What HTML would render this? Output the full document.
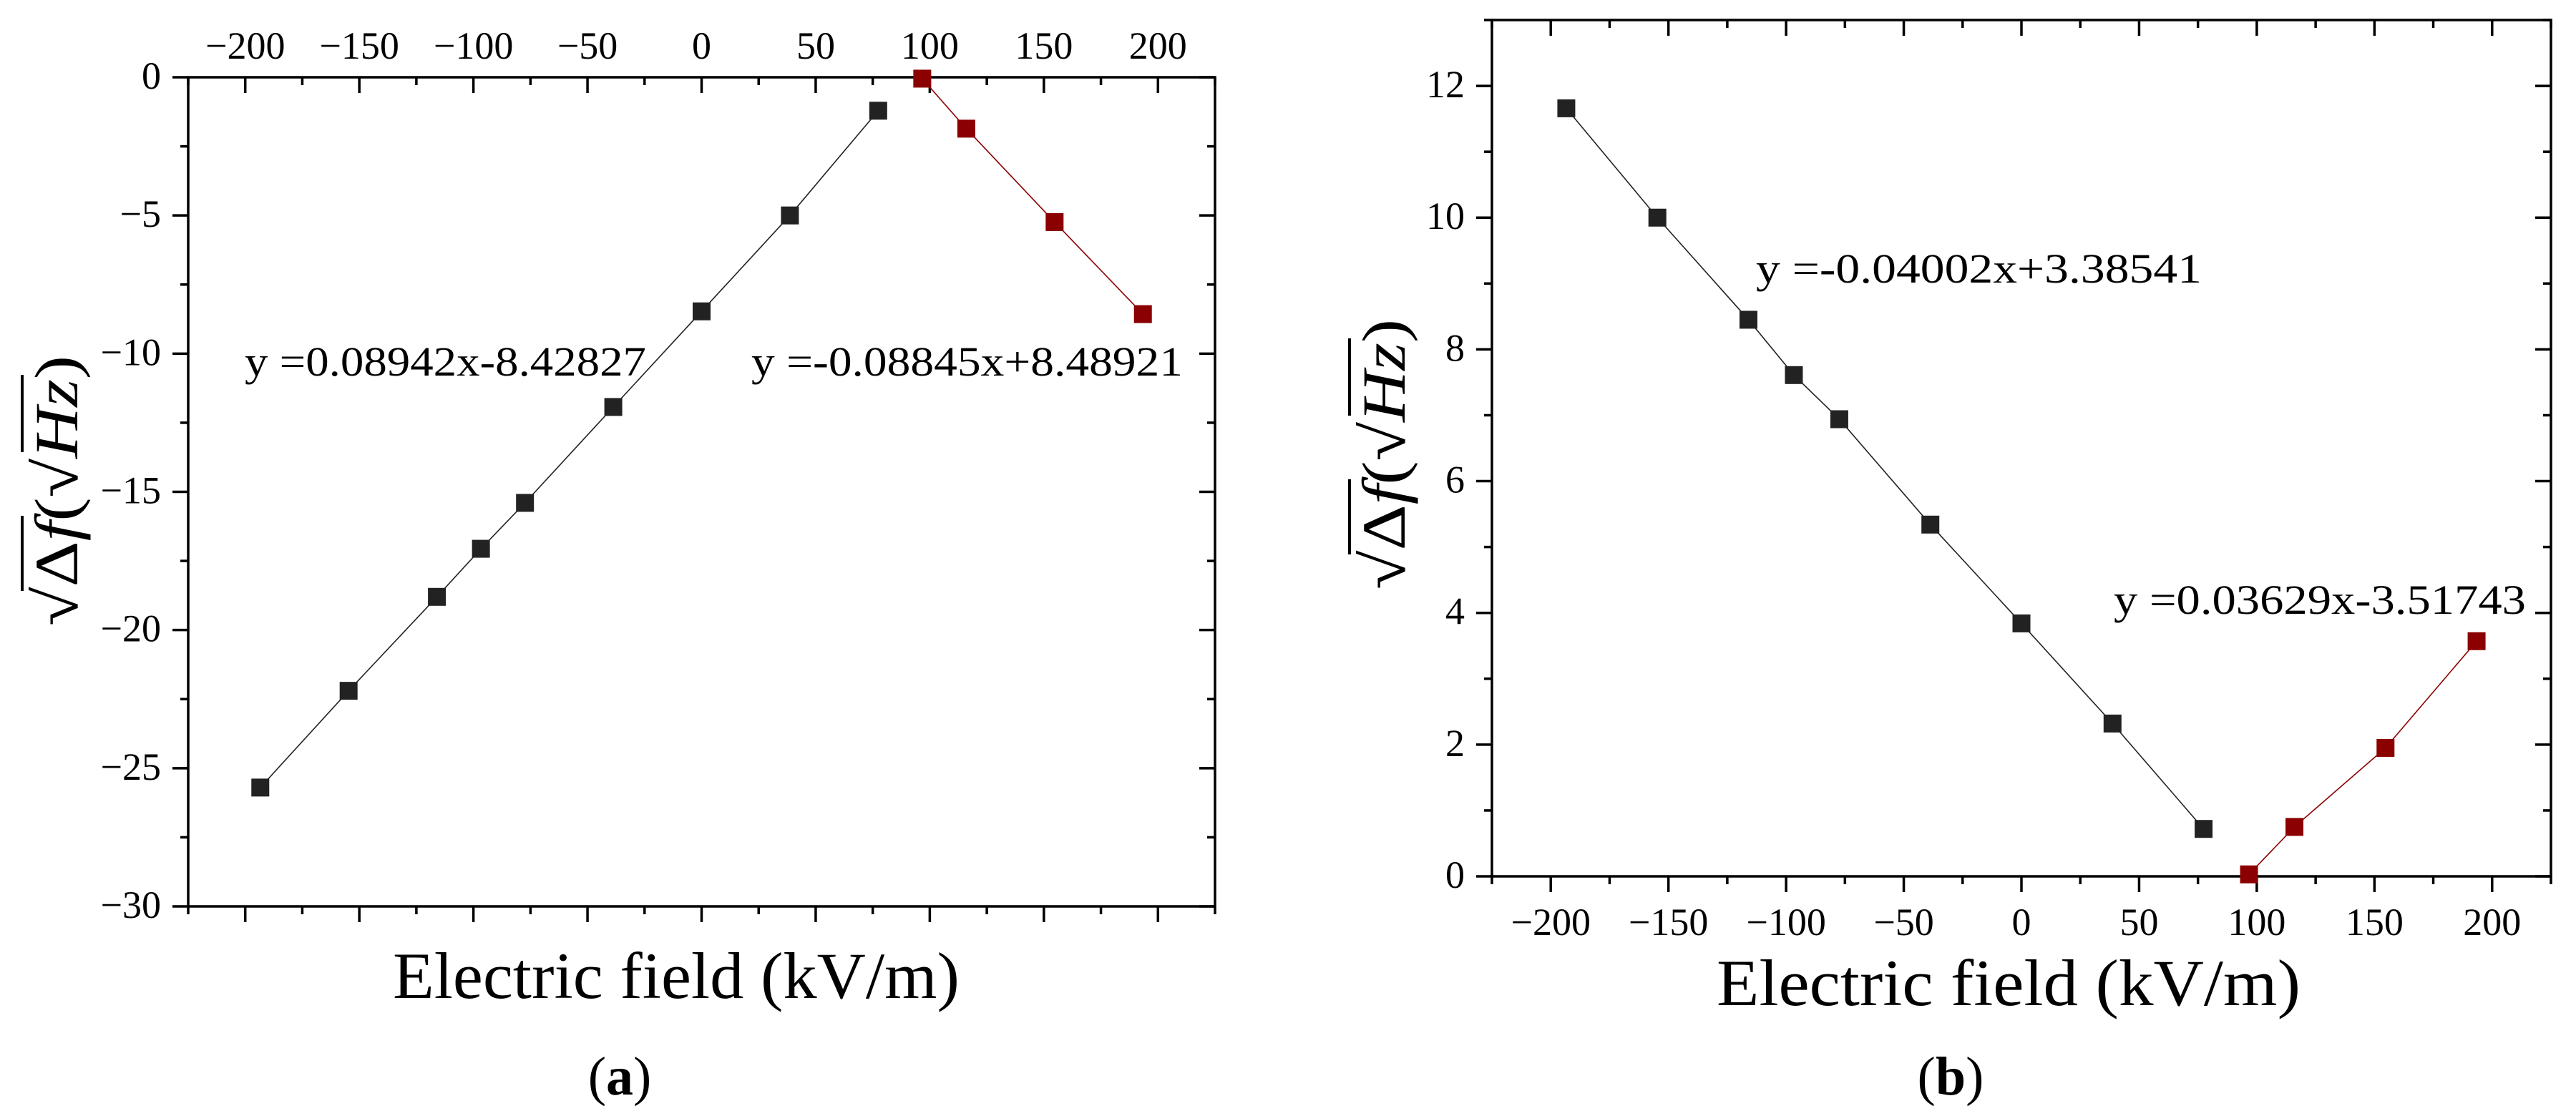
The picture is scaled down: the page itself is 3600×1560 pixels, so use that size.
<!DOCTYPE html>
<html><head><meta charset="utf-8">
<style>
html,body{margin:0;padding:0;background:#fff;}
svg{display:block;}
text{font-family:"Liberation Serif",serif;fill:#000;}
</style></head>
<body>
<svg id="fig" width="3600" height="1560" viewBox="0 0 3600 1560" xmlns="http://www.w3.org/2000/svg">
  <g id="chartA"></g>
  <g id="chartB"></g>
</svg>
<script>
// ---- Shared data ----
const xTickValues = [-200, -150, -100, -50, 0, 50, 100, 150, 200];
const fieldBlack = [-193.4, -154.7, -116, -96.7, -77.4, -38.7, 0, 38.7, 77.4];
const fieldRed = [96.7, 116, 154.7, 193.4];
// ---- Chart (a) ----
const aBlackY = [-25.7, -22.2, -18.8, -17.06, -15.4, -11.93, -8.47, -5.0, -1.21];
const aRedY = [-0.05, -1.86, -5.24, -8.57];
const aYTicks = [0, -5, -10, -15, -20, -25, -30];
const aFitLeft = "y =0.08942x-8.42827";
const aFitRight = "y =-0.08845x+8.48921";
// ---- Chart (b) ----
const bBlackY = [11.66, 10.0, 8.45, 7.61, 6.94, 5.34, 3.84, 2.32, 0.72];
const bRedY = [0.03, 0.75, 1.95, 3.57];
const bYTicks = [0, 2, 4, 6, 8, 10, 12];
const bFitLeft = "y =-0.04002x+3.38541";
const bFitRight = "y =0.03629x-3.51743";

const NS = "http://www.w3.org/2000/svg";
function mk(parent, tag, attrs, txt) {
  const e = document.createElementNS(NS, tag);
  for (const k in attrs) e.setAttribute(k, attrs[k]);
  if (txt !== undefined) e.textContent = txt;
  parent.appendChild(e);
  return e;
}

function drawChart(g, cfg) {
  const L = cfg.left, R = cfg.right, T = cfg.top, B = cfg.bottom;
  const xs = v => L + (v - cfg.xmin) / (cfg.xmax - cfg.xmin) * (R - L);
  const ys = v => B - (v - cfg.ymin) / (cfg.ymax - cfg.ymin) * (B - T);
  const ax = mk(g, 'g', {});
  
  
  const fr = mk(ax, 'rect', {x: L, y: T, width: R - L, height: B - T, fill: 'none', stroke: '#000', 'stroke-width': 3.5});
  
  
  for (let v = -225; v <= 225.01; v += 25) {
    const major = Math.abs(v % 50) < 0.01;
    const len = major ? 22 : 11;
    const x = xs(v);
    mk(ax, 'line', {x1: x, y1: B, x2: x, y2: B + len, stroke: '#000', 'stroke-width': 3.5});
    mk(ax, 'line', {x1: x, y1: T, x2: x, y2: T + len, stroke: '#000', 'stroke-width': 3.5});
  }
  for (let v = cfg.ymin; v <= cfg.ymax + 0.001; v += cfg.yminor) {
    const major = cfg.yTicks.some(t => Math.abs(t - v) < 0.01);
    const len = major ? 22 : 11;
    const y = ys(v);
    mk(ax, 'line', {x1: L - len, y1: y, x2: L, y2: y, stroke: '#000', 'stroke-width': 3.5});
    mk(ax, 'line', {x1: R, y1: y, x2: R - len, y2: y, stroke: '#000', 'stroke-width': 3.5});
  }
  xTickValues.forEach(v => {
    const t = mk(ax, 'text', {x: xs(v), y: cfg.xLabelY, 'text-anchor': 'middle', 'font-size': 54}, (v < 0 ? '\u2212' + Math.abs(v) : String(v)));
    
    
  });
  cfg.yTicks.forEach(v => {
    const t = mk(ax, 'text', {x: L - 38, y: ys(v) + 16, 'text-anchor': 'end', 'font-size': 54}, (v < 0 ? '\u2212' + Math.abs(v) : String(v)));
    
    
  });
  const blackPts = fieldBlack.map((x, i) => xs(x) + ',' + ys(cfg.blackY[i])).join(' ');
  const redPts = fieldRed.map((x, i) => xs(x) + ',' + ys(cfg.redY[i])).join(' ');
  const bl = mk(g, 'polyline', {points: blackPts, fill: 'none', stroke: '#222', 'stroke-width': 1.6});
  
  
  const rl = mk(g, 'polyline', {points: redPts, fill: 'none', stroke: '#8b0000', 'stroke-width': 1.6});
  
  
  const S = 25;
  fieldBlack.forEach((x, i) => {
    const r = mk(g, 'rect', {x: xs(x) - S / 2, y: ys(cfg.blackY[i]) - S / 2, width: S, height: S, fill: '#222'});
    
    
  });
  fieldRed.forEach((x, i) => {
    const r = mk(g, 'rect', {x: xs(x) - S / 2, y: ys(cfg.redY[i]) - S / 2, width: S, height: S, fill: '#8b0000'});
    
    
  });
  cfg.annots.forEach(a => {
    const t = mk(g, 'text', {x: a.x, y: a.y, 'font-size': 58, textLength: a.w, lengthAdjust: 'spacingAndGlyphs'}, a.text);
    
    
  });
  const xt = mk(g, 'text', {x: cfg.xTitle.x, y: cfg.xTitle.y, 'font-size': 92, textLength: cfg.xTitle.w, lengthAdjust: 'spacingAndGlyphs'}, 'Electric field (kV/m)');
  
  
  const yg = mk(g, 'g', {transform: 'translate(' + cfg.yTitle.x + ',' + cfg.yTitle.y + ') rotate(-90)'});
  
  
  const yt = mk(yg, 'text', {x: -189, y: 31, 'font-size': 86, textLength: 378, lengthAdjust: 'spacingAndGlyphs'});
  const parts = [['\u221A', 'normal'], ['\u0394', 'normal'], ['f', 'italic'], ['(', 'normal'], ['\u221A', 'normal'], ['Hz', 'italic'], [')', 'normal']];
  parts.forEach(p => { mk(yt, 'tspan', {'font-style': p[1]}, p[0]); });
  mk(yg, 'line', {x1: -140, y1: -46, x2: -35, y2: -46, stroke: '#000', 'stroke-width': 4});
  mk(yg, 'line', {x1: 54, y1: -46, x2: 162, y2: -46, stroke: '#000', 'stroke-width': 4});
  const pl = mk(g, 'text', {x: cfg.panel.x, y: cfg.panel.y, 'font-size': 76, 'text-anchor': 'middle'});
  mk(pl, 'tspan', {}, '(');
  mk(pl, 'tspan', {'font-weight': 'bold'}, cfg.panel.letter);
  mk(pl, 'tspan', {}, ')');
  
  
}

drawChart(document.getElementById('chartA'), {
  left: 263, right: 1698, top: 108, bottom: 1267,
  xmin: -225, xmax: 225, ymin: -30, ymax: 0, ymajor: 5, yminor: 2.5,
  yTicks: aYTicks, blackY: aBlackY, redY: aRedY, xLabelY: 82,
  annots: [{x: 342, y: 525, w: 561, text: aFitLeft}, {x: 1050, y: 525, w: 603, text: aFitRight}],
  xTitle: {x: 549, y: 1395, w: 792},
  yTitle: {x: 77, y: 686},
  panel: {x: 866, y: 1530, letter: 'a'}
});
drawChart(document.getElementById('chartB'), {
  left: 2085, right: 3565, top: 28, bottom: 1225,
  xmin: -225, xmax: 225, ymin: 0, ymax: 13, ymajor: 2, yminor: 1,
  yTicks: bYTicks, blackY: bBlackY, redY: bRedY, xLabelY: 1307,
  annots: [{x: 2454, y: 395, w: 623, text: bFitLeft}, {x: 2954, y: 858, w: 576, text: bFitRight}],
  xTitle: {x: 2399, y: 1405, w: 816},
  yTitle: {x: 1932, y: 635},
  panel: {x: 2726, y: 1530, letter: 'b'}
});
</script>
</body></html>
